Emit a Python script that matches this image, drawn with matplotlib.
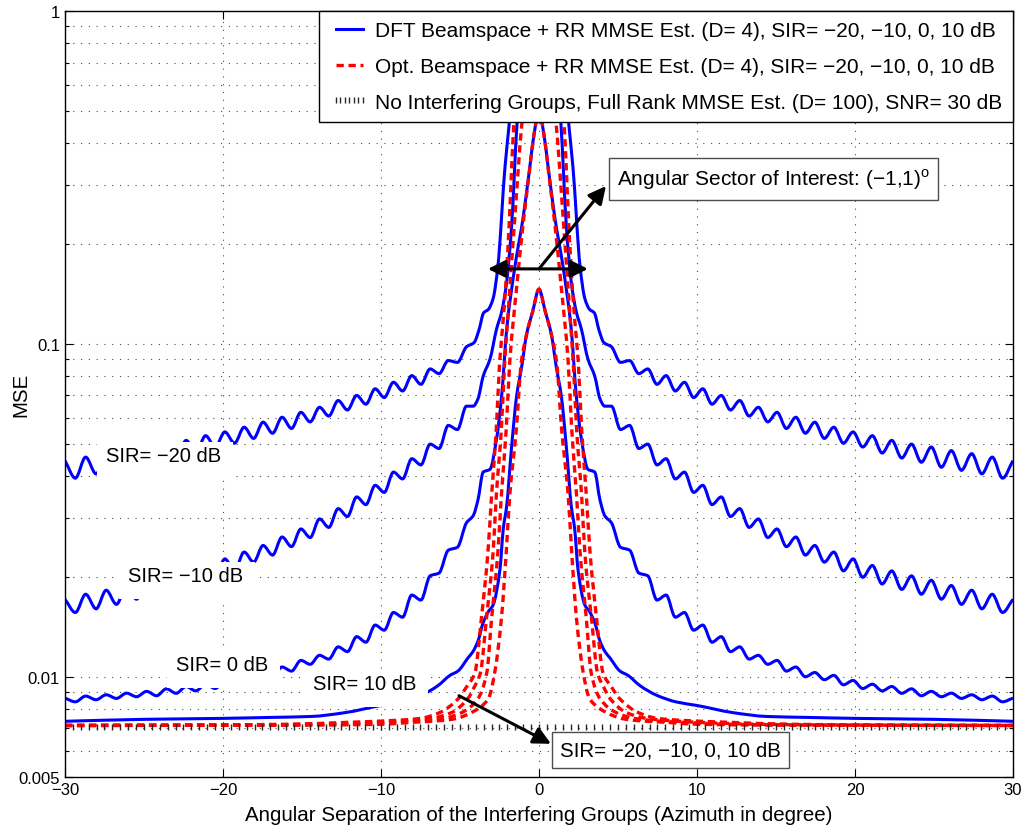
import numpy as np
import matplotlib
matplotlib.use("Agg")
import matplotlib.pyplot as plt
from matplotlib.path import Path
from matplotlib.patches import PathPatch, Rectangle
from matplotlib.ticker import LogLocator, NullFormatter

plt.rcParams["font.family"] = ["Liberation Sans", "DejaVu Sans"]
plt.rcParams["mathtext.fontset"] = "custom"
plt.rcParams["mathtext.rm"] = "Liberation Sans"

# angles of sidelobe peaks / troughs (right half, degrees)
RIPPLE_DEG = [5.16, 5.74, 6.32, 6.89, 7.47, 8.05, 8.63, 9.21, 9.79, 10.37,
              10.95, 11.54, 12.12, 12.71, 13.30, 13.89, 14.48, 15.07, 15.66, 16.26,
              16.86, 17.46, 18.06, 18.66, 19.27, 19.88, 20.49, 21.10, 21.72, 22.33,
              22.96, 23.58, 24.20, 24.83, 25.47, 26.10, 26.74, 27.39, 28.03, 28.69,
              29.34, 30.00]

# DFT beamspace, SIR = -20 dB
dft_m20_core_deg = [0, 1.0, 1.5, 1.9, 2.15, 2.6, 2.9, 3.2, 3.5, 3.8, 4.1, 4.59]
dft_m20_core_mse = [2.0, 1.2, 0.75, 0.45, 0.34, 0.171, 0.137, 0.127, 0.124, 0.11, 0.101, 0.098]
dft_m20_ripple = [0.088, 0.0891, 0.0814, 0.0841, 0.0756, 0.0803, 0.0722, 0.0767, 0.0690, 0.0733,
                  0.0659, 0.0700, 0.0633, 0.0676, 0.0607, 0.0645, 0.0583, 0.0623, 0.0557, 0.0602,
                  0.0539, 0.0582, 0.0520, 0.0562, 0.0503, 0.0544, 0.0490, 0.0530, 0.0470, 0.0513,
                  0.0454, 0.0500, 0.0441, 0.0490, 0.0426, 0.0478, 0.0417, 0.0468, 0.0407, 0.0457,
                  0.0395, 0.0446]

# DFT beamspace, SIR = -10 dB
dft_m10_core_deg = [0, 0.8, 1.4, 1.73, 2.04, 2.36, 2.68, 3.1, 3.53, 3.86, 4.16, 4.59]
dft_m10_core_mse = [1.5, 1.0, 0.45, 0.227, 0.154, 0.125, 0.111, 0.090, 0.080, 0.0684, 0.065, 0.065]
dft_m10_ripple = [0.0553, 0.0569, 0.0485, 0.0500, 0.0433, 0.0452, 0.0393, 0.0412, 0.0358, 0.0376,
                  0.0329, 0.0347, 0.0303, 0.0320, 0.0281, 0.0298, 0.0262, 0.0278, 0.0246, 0.0263,
                  0.0232, 0.0248, 0.0221, 0.0237, 0.0208, 0.0226, 0.0199, 0.0216, 0.0190, 0.0208,
                  0.0183, 0.0201, 0.0177, 0.0195, 0.0171, 0.0188, 0.0165, 0.0182, 0.0160, 0.0177,
                  0.0156, 0.0171]

# DFT beamspace, SIR = 0 dB
dft_0_core_deg = [0, 0.3, 0.57, 0.99, 1.52, 2.04, 2.36, 2.68, 3.1, 3.53, 3.86, 4.16, 4.59]
dft_0_core_mse = [0.50, 0.43, 0.343, 0.242, 0.171, 0.111, 0.070, 0.052, 0.042, 0.0412, 0.034, 0.0305, 0.029]
dft_0_ripple = [0.0245, 0.0240, 0.0205, 0.0201, 0.0170, 0.0176, 0.0151, 0.0156, 0.0138, 0.0143,
                0.0127, 0.0132, 0.0119, 0.0123, 0.0113, 0.0116, 0.0109, 0.0112, 0.0104, 0.0107,
                0.0100, 0.0103, 0.0098, 0.0101, 0.00946, 0.00975, 0.00922, 0.0095, 0.00907, 0.00935,
                0.00892, 0.0092, 0.00877, 0.00904, 0.00871, 0.00893, 0.00861, 0.00883, 0.00853, 0.00875,
                0.00841, 0.00863]

# DFT beamspace, SIR = 10 dB
dft_10_deg = [0, 0.4, 0.78, 1.1, 1.41, 1.75, 2.04, 2.26, 2.47, 2.91, 3.2, 3.54, 3.86, 4.18,
              4.49, 5.13, 5.63, 6.4, 7.45, 8.7, 10.0, 12.3, 14.4, 17.0, 20.0, 25.0, 30.0]
dft_10_mse = [0.146, 0.125, 0.107, 0.085, 0.070, 0.048, 0.0327, 0.0278, 0.021, 0.0164, 0.0157,
              0.0145, 0.0128, 0.0119, 0.0114, 0.0104, 0.0101, 0.0094, 0.0088, 0.0084, 0.0082,
              0.0078, 0.0076, 0.00755, 0.0075, 0.00745, 0.00735]

# Optimal beamspace curves
opt_m20_deg = [0, 1.0, 1.6, 1.8, 2.0, 2.25, 2.49, 2.7, 3.0, 3.23, 3.65, 4.05, 4.6, 5.1,
               6.3, 7.5, 9.0, 12.0, 16.0, 22.0, 30.0]
opt_m20_mse = [1.5, 0.8, 0.45, 0.28, 0.18, 0.12, 0.088, 0.0556, 0.035, 0.0237, 0.0149, 0.0103,
               0.0093, 0.0086, 0.0078, 0.0075, 0.0074, 0.0073, 0.0072, 0.00716, 0.00714]
opt_m10_deg = [0, 0.8, 1.1, 1.5, 1.75, 2.0, 2.17, 2.38, 2.7, 2.9, 3.33, 3.7, 4.1, 4.5,
               5.55, 6.8, 8.0, 10.0, 14.0, 20.0, 30.0]
opt_m10_mse = [1.2, 0.6, 0.45, 0.25, 0.17, 0.115, 0.088, 0.0556, 0.035, 0.0237, 0.0149, 0.0103,
               0.0093, 0.0086, 0.0078, 0.0075, 0.0074, 0.0073, 0.0072, 0.00716, 0.00714]
opt_0_deg = [0, 0.3, 0.6, 1.0, 1.4, 1.85, 2.07, 2.38, 2.6, 3.0, 3.3, 3.86, 4.9, 6.0,
             7.0, 9.0, 12.0, 18.0, 30.0]
opt_0_mse = [0.5, 0.43, 0.33, 0.23, 0.15, 0.088, 0.0556, 0.035, 0.0237, 0.0149, 0.0103, 0.0086,
             0.0078, 0.0075, 0.0074, 0.0073, 0.0072, 0.00716, 0.00714]
opt_10_deg = [0, 0.4, 0.78, 1.12, 1.43, 1.85, 2.07, 2.38, 2.8, 3.2, 4.3, 5.2, 6.0, 8.0,
              10.0, 15.0, 30.0]
opt_10_mse = [0.146, 0.125, 0.107, 0.088, 0.0556, 0.035, 0.0237, 0.0149, 0.0103, 0.0086, 0.0078,
              0.0075, 0.0074, 0.0073, 0.0072, 0.00716, 0.00714]

# full rank reference, no interfering groups
full_rank_mse = 0.00708
full_rank_deg = np.arange(-30, 30.01, 0.5)

curve_labels = ["SIR= \u221220 dB", "SIR= \u221210 dB", "SIR= 0 dB", "SIR= 10 dB"]
label_pos = [(-27.4, 0.0461), (-26.0, 0.0202), (-22.97, 0.01087), (-14.3, 0.00953)]


def mirror(deg, mse):
    deg = np.asarray(deg, dtype=float)
    mse = np.asarray(mse, dtype=float)
    return np.concatenate([-deg[::-1], deg[1:]]), np.concatenate([mse[::-1], mse[1:]])


def smooth_path(x, y):
    # monotone cubic (pchip-style) through the points, drawn as bezier segments in log-y
    ly = np.log10(y)
    h = np.diff(x)
    d = np.diff(ly) / h
    m = np.zeros_like(x)
    m[0], m[-1] = d[0], d[-1]
    for i in range(1, len(x) - 1):
        if d[i - 1] * d[i] > 0:
            w1 = 2 * h[i] + h[i - 1]
            w2 = h[i] + 2 * h[i - 1]
            m[i] = (w1 + w2) / (w1 / d[i - 1] + w2 / d[i])
    verts = [(x[0], y[0])]
    codes = [Path.MOVETO]
    for i in range(len(h)):
        verts.append((x[i] + h[i] / 3, 10 ** (ly[i] + m[i] * h[i] / 3)))
        verts.append((x[i + 1] - h[i] / 3, 10 ** (ly[i + 1] - m[i + 1] * h[i] / 3)))
        verts.append((x[i + 1], y[i + 1]))
        codes += [Path.CURVE4] * 3
    return Path(verts, codes)


def main():
    fig = plt.figure(figsize=(10.23, 8.28), dpi=100)
    ax = fig.add_axes([0.0635, 0.0604, 0.9267, 0.9251])
    ax.set_yscale("log")
    ax.set_xlim(-30, 30)
    ax.set_ylim(0.005, 1)

    blue_sets = [
        (dft_m20_core_deg + RIPPLE_DEG, dft_m20_core_mse + dft_m20_ripple),
        (dft_m10_core_deg + RIPPLE_DEG, dft_m10_core_mse + dft_m10_ripple),
        (dft_0_core_deg + RIPPLE_DEG, dft_0_core_mse + dft_0_ripple),
        (dft_10_deg, dft_10_mse),
    ]
    red_sets = [(opt_m20_deg, opt_m20_mse), (opt_m10_deg, opt_m10_mse),
                (opt_0_deg, opt_0_mse), (opt_10_deg, opt_10_mse)]

    for deg, mse in blue_sets:
        x, y = mirror(deg, mse)
        ax.add_patch(PathPatch(smooth_path(x, y), fill=False, edgecolor=(0, 0, 1), lw=2.2,
                               joinstyle="round", zorder=2))
    for deg, mse in red_sets:
        x, y = mirror(deg, mse)
        ax.add_patch(PathPatch(smooth_path(x, y), fill=False, edgecolor=(1, 0, 0), lw=2.4,
                               ls=(0, (2.2, 1.4)), zorder=2.1))
    h_full, = ax.plot(full_rank_deg, np.full_like(full_rank_deg, full_rank_mse), ls="none",
                      marker="|", ms=4, mew=1.0, color="0.15", zorder=2.2)
    h_blue, = ax.plot([], [], color=(0, 0, 1), lw=2.2)
    h_red, = ax.plot([], [], color=(1, 0, 0), lw=2.4, ls="--", dashes=(2.2, 1.4))

    ax.set_xticks([-30, -20, -10, 0, 10, 20, 30])
    ax.set_yticks([0.005, 0.01, 0.1, 1])
    ax.set_yticklabels(["0.005", "0.01", "0.1", "1"])
    ax.yaxis.set_minor_locator(LogLocator(base=10, subs=np.arange(2, 10)))
    ax.yaxis.set_minor_formatter(NullFormatter())
    ax.tick_params(which="both", direction="in", top=True, right=True, labelsize=12, width=0.8)
    ax.tick_params(which="major", length=6)
    ax.tick_params(which="minor", length=3)
    for s in ax.spines.values():
        s.set_linewidth(1.0)

    grid_style = dict(color="k", lw=0.8, ls=(0, (1, 6)), alpha=0.7)
    ax.grid(True, which="major", axis="both", **grid_style)
    ax.grid(True, which="minor", axis="y", **grid_style)

    ax.set_xlabel("Angular Separation of the Interfering Groups (Azimuth in degree)", fontsize=14.8, labelpad=6)
    ax.set_ylabel("MSE", fontsize=14.8)
    ax.yaxis.set_label_coords(-0.037, 0.5)

    # curve labels; white boxes are added after layout from the text extents
    label_texts = []
    for txt, (lx, ly) in zip(curve_labels, label_pos):
        label_texts.append(ax.text(lx, ly, txt, fontsize=14.5, ha="left", va="center", zorder=4))

    arrow = "-|>,head_length=0.7,head_width=0.35"
    ax.annotate("", xy=(3.1, 0.168), xytext=(-3.23, 0.168), zorder=5,
                arrowprops=dict(arrowstyle="<|-|>,head_length=0.7,head_width=0.35", lw=2.2,
                                color="k", mutation_scale=15, shrinkA=0, shrinkB=0))
    ax.annotate("", xy=(4.24, 0.298), xytext=(0, 0.168), zorder=5,
                arrowprops=dict(arrowstyle=arrow, lw=2.2, color="k", mutation_scale=15,
                                shrinkA=0, shrinkB=0))
    ax.annotate("", xy=(0.76, 0.00629), xytext=(-5.06, 0.00877), zorder=5,
                arrowprops=dict(arrowstyle=arrow, lw=2.2, color="k", mutation_scale=15,
                                shrinkA=0, shrinkB=0))

    ax.text(4.94, 0.313, "Angular Sector of Interest: (\u22121,1)$^{\\mathrm{o}}$", fontsize=15,
            ha="left", va="center", zorder=6,
            bbox=dict(facecolor="white", edgecolor="0.3", lw=1.0, pad=6))
    ax.text(1.33, 0.00601, "SIR= \u221220, \u221210, 0, 10 dB", fontsize=14.8,
            ha="left", va="center", zorder=6,
            bbox=dict(facecolor="white", edgecolor="0.3", lw=1.0, pad=6))

    leg = ax.legend([h_blue, h_red, h_full],
                    ["DFT Beamspace + RR MMSE Est. (D= 4), SIR= \u221220, \u221210, 0, 10 dB",
                     "Opt. Beamspace + RR MMSE Est. (D= 4), SIR= \u221220, \u221210, 0, 10 dB",
                     "No Interfering Groups, Full Rank MMSE Est. (D= 100), SNR= 30 dB"],
                    loc="upper right", borderaxespad=0, fontsize=15, fancybox=False,
                    framealpha=1, edgecolor="k", handlelength=1.9, handletextpad=0.3,
                    labelspacing=0.8, numpoints=7, borderpad=0.5)
    leg.get_frame().set_linewidth(1.0)
    leg.set_zorder(10)

    # white label boxes, taller below the text like the original figure
    fig.canvas.draw()
    inv = ax.transAxes.inverted()
    for t in label_texts:
        bb = t.get_window_extent()
        (x0, y0), (x1, y1) = inv.transform([(bb.x0 - 9, bb.y0 - 14), (bb.x1 + 12, bb.y1 + 4)])
        ax.add_patch(Rectangle((x0, y0), x1 - x0, y1 - y0, transform=ax.transAxes,
                               facecolor="white", edgecolor="none", zorder=3.9))

    fig.savefig("out.png", dpi=100)


if __name__ == "__main__":
    main()
